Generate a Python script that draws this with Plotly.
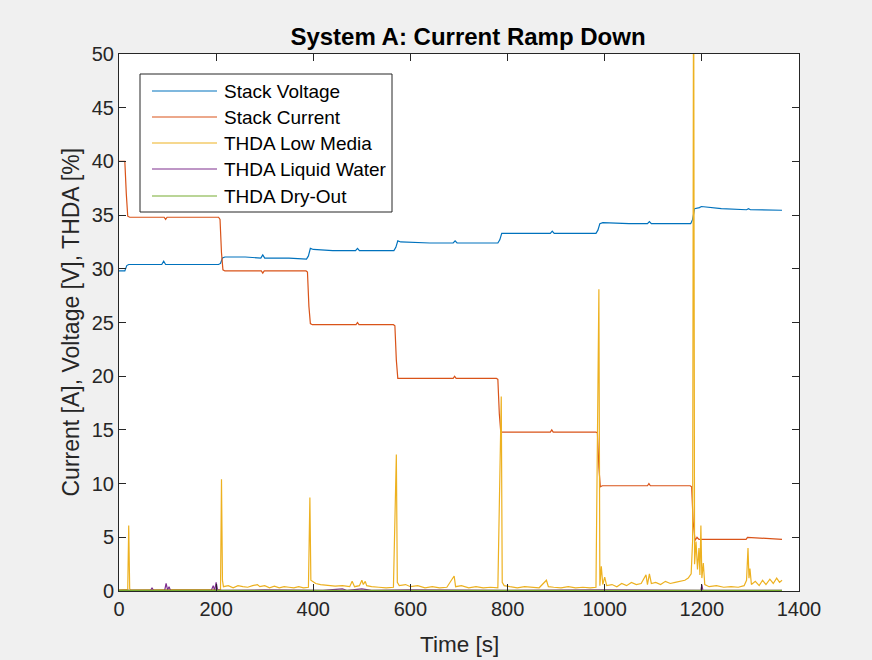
import plotly.graph_objects as go

# ---------------- data ----------------
x_ticks = [0, 200, 400, 600, 800, 1000, 1200, 1400]
y_ticks = [0, 5, 10, 15, 20, 25, 30, 35, 40, 45, 50]

series_names = ["Stack Voltage", "Stack Current", "THDA Low Media",
                "THDA Liquid Water", "THDA Dry-Out"]

voltage_t = [0, 12, 16, 20, 60, 88, 92, 96, 150,
             205, 209, 213, 218, 260, 292, 296, 300, 350,
             386, 390, 394, 400, 440, 487, 491, 495, 530,
             566, 570, 574, 580, 640, 688, 692, 696, 740,
             780, 784, 788, 794, 850, 888, 892, 896, 940,
             982, 986, 990, 996, 1050, 1088, 1092, 1096, 1140,
             1177, 1181, 1185, 1195, 1199, 1240, 1292, 1296, 1300, 1365]
voltage_v = [29.8, 29.8, 30.3, 30.4, 30.4, 30.4, 30.7, 30.4, 30.4,
             30.4, 30.5, 31.0, 31.1, 31.1, 31.0, 31.3, 31.0, 31.0,
             30.9, 31.2, 31.9, 31.8, 31.7, 31.7, 31.9, 31.7, 31.7,
             31.7, 32.0, 32.6, 32.5, 32.4, 32.4, 32.6, 32.4, 32.4,
             32.4, 32.7, 33.3, 33.3, 33.3, 33.3, 33.5, 33.3, 33.3,
             33.3, 33.6, 34.2, 34.3, 34.2, 34.2, 34.4, 34.2, 34.2,
             34.2, 34.6, 35.6, 35.7, 35.8, 35.6, 35.5, 35.6, 35.5, 35.45]

current_t = [0, 12, 15, 18, 22, 93, 96, 99,
             205, 208, 211, 214, 218, 293, 296, 299,
             385, 388, 391, 394, 398, 488, 491, 494,
             565, 568, 571, 574, 578, 688, 691, 694,
             777, 780, 783, 786, 790, 888, 891, 894,
             982, 985, 988, 991, 995, 1088, 1091, 1094,
             1176, 1179, 1182, 1186, 1190, 1194, 1288, 1291, 1294, 1365]
current_v = [40.0, 40.0, 37.0, 34.9, 34.8, 34.8, 34.6, 34.8,
             34.8, 34.6, 31.5, 29.9, 29.8, 29.8, 29.6, 29.8,
             29.8, 29.7, 26.5, 24.9, 24.8, 24.8, 25.0, 24.8,
             24.8, 24.7, 21.5, 19.8, 19.8, 19.8, 20.0, 19.8,
             19.8, 19.7, 16.5, 14.8, 14.8, 14.8, 15.0, 14.8,
             14.8, 14.7, 11.5, 9.7, 9.8, 9.8, 10.0, 9.8,
             9.8, 9.7, 6.5, 4.7, 5.0, 4.8, 4.8, 4.8, 5.0, 4.8]

low_media_t = [0, 10, 18, 20, 22, 24, 60, 100, 150, 200, 209,
               211, 213, 215, 225, 235, 245, 255, 265, 275, 285, 290, 300, 310, 320, 330, 340, 350, 360, 370, 380, 390,
               393, 395, 398, 405, 415, 430, 445, 460, 475, 480, 485, 495, 500, 503, 507, 510, 520, 535, 550, 565,
               571, 573, 577, 590, 600, 615, 630, 645, 660, 675, 690, 693, 705, 720, 735, 750, 765, 780,
               787, 789, 793, 805, 820, 835, 850, 865, 880, 884, 895, 910, 925, 940, 955, 970, 982,
               988, 990, 993, 996, 1000, 1004, 1015, 1025, 1035, 1045, 1055, 1065, 1075, 1085, 1088, 1092, 1096,
               1105, 1115, 1125, 1135, 1145, 1155, 1165, 1172, 1178,
               1181, 1183, 1185, 1188, 1191, 1194, 1196, 1198, 1200, 1203, 1206, 1215, 1230, 1245, 1260, 1275,
               1287, 1292, 1295, 1297, 1299, 1302, 1310, 1318, 1325, 1332, 1340, 1347, 1354, 1360, 1365]
low_media_v = [0.1, 0.1, 0.15, 6.1, 0.2, 0.1, 0.1, 0.15, 0.1, 0.15, 0.15,
               10.4, 1.0, 0.4, 0.5, 0.3, 0.5, 0.4, 0.35, 0.5, 0.6, 0.4, 0.5, 0.3, 0.45, 0.3, 0.4, 0.35, 0.3, 0.4, 0.3, 0.35,
               8.7, 1.0, 0.9, 0.7, 0.6, 0.5, 0.45, 0.5, 0.4, 0.9, 0.4, 0.5, 1.0, 0.6, 0.9, 0.5, 0.4, 0.35, 0.3, 0.35,
               12.7, 0.8, 0.5, 0.6, 0.4, 0.5, 0.3, 0.4, 0.3, 0.35, 1.4, 0.4, 0.5, 0.3, 0.4, 0.3, 0.35, 0.3,
               18.1, 0.8, 0.5, 0.4, 0.3, 0.4, 0.35, 0.3, 1.0, 0.4, 0.35, 0.3, 0.4, 0.3, 0.35, 0.3, 0.35,
               28.1, 0.5, 2.3, 0.6, 1.3, 0.5, 0.6, 0.4, 0.7, 0.5, 0.8, 0.6, 0.7, 1.5, 0.6, 1.6, 0.7,
               0.8, 0.6, 0.9, 0.7, 0.8, 0.9, 1.0, 1.2, 1.6,
               4.7, 62.0, 2.5, 4.6, 2.0, 4.0, 1.5, 6.1, 1.2, 2.6, 0.6, 0.4, 0.5, 0.35, 0.4, 0.35,
               0.5, 1.0, 4.0, 1.2, 2.1, 0.6, 0.9, 0.5, 1.0, 0.6, 1.1, 0.7, 1.2, 0.8, 1.0]

liquid_water_t = [0, 30, 65, 68, 71, 94, 97, 100, 103, 106, 150, 190, 194, 197, 200, 203, 212,
                  300, 420, 460, 470, 500, 520, 600, 800, 1000, 1198, 1200, 1202, 1365]
liquid_water_v = [0.05, 0.05, 0.05, 0.3, 0.05, 0.05, 0.7, 0.1, 0.4, 0.05, 0.05, 0.05, 0.5, 0.05, 0.8, 0.1, 0.05,
                  0.1, 0.05, 0.2, 0.05, 0.2, 0.05, 0.1, 0.05, 0.1, 0.05, 0.6, 0.05, 0.05]

dry_out_t = [0, 400, 800, 1200, 1365]
dry_out_v = [0.05, 0.05, 0.05, 0.05, 0.05]

# ---------------- styling ----------------
colors = ["#0072BD", "#D95319", "#EDB120", "#7E2F8E", "#77AC30"]
FONT = "Liberation Sans, Arial, Helvetica, sans-serif"
AX = "#262626"

W, H = 872, 660
L, R, T, B = 119, 799, 54, 591  # plot area in pixels


def px(xp):
    return (xp - L) / (R - L)


def py(yp):
    return (B - yp) / (B - T)


fig = go.Figure()
data = [(voltage_t, voltage_v), (current_t, current_v), (low_media_t, low_media_v),
        (liquid_water_t, liquid_water_v), (dry_out_t, dry_out_v)]
for (t, v), name, c in zip(data, series_names, colors):
    fig.add_trace(go.Scatter(x=t, y=v, mode="lines", name=name,
                             line=dict(color=c, width=1.2), showlegend=False))

axis_common = dict(showgrid=False, zeroline=False, showline=True, linecolor=AX, linewidth=1,
                   mirror="ticks", ticks="inside", ticklen=7, tickcolor=AX, tickwidth=1,
                   tickfont=dict(family=FONT, size=20, color=AX))

fig.update_layout(
    width=W, height=H,
    margin=dict(l=L, r=W - R, t=T, b=H - B),
    paper_bgcolor="#F0F0F0", plot_bgcolor="white",
    font=dict(family=FONT, size=20, color=AX),
    showlegend=False,
    title=dict(text="<b>System A: Current Ramp Down</b>", font=dict(family=FONT, size=24, color="black"),
               x=px(468), xref="paper", xanchor="center", y=1 - 37 / H, yref="container", yanchor="middle"),
    xaxis=dict(range=[0, 1400], tickvals=x_ticks, **axis_common),
    yaxis=dict(range=[0, 50], tickvals=y_ticks, **axis_common),
)

# axis labels
fig.add_annotation(text="Time [s]", x=0.5, y=py(644), xref="paper", yref="paper",
                   showarrow=False, xanchor="center", yanchor="middle",
                   font=dict(family=FONT, size=22.5, color=AX))
fig.add_annotation(text="Current [A], Voltage [V], THDA [%]", x=px(70), y=0.5, xref="paper", yref="paper",
                   showarrow=False, xanchor="center", yanchor="middle", textangle=-90,
                   font=dict(family=FONT, size=23, color=AX))

# legend (MATLAB style box)
fig.add_shape(type="rect", xref="paper", yref="paper", x0=px(140), x1=px(392), y0=py(212), y1=py(74),
              line=dict(color=AX, width=1), fillcolor="white", layer="above")
row_y = [91, 117, 143, 169, 196]
for name, c, ry in zip(series_names, colors, row_y):
    fig.add_shape(type="line", xref="paper", yref="paper", x0=px(152), x1=px(217), y0=py(ry), y1=py(ry),
                  line=dict(color=c, width=1.2), layer="above")
    fig.add_annotation(text=name, x=px(222), y=py(ry), xref="paper", yref="paper", showarrow=False,
                       xanchor="left", yanchor="middle", font=dict(family=FONT, size=19, color="black"))

fig.write_html("out.html")
